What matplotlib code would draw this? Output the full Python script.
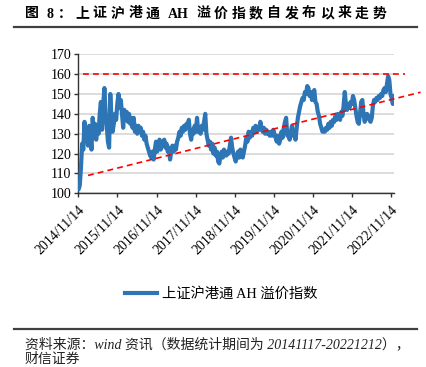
import matplotlib
matplotlib.use("Agg")
import matplotlib.pyplot as plt
from matplotlib.lines import Line2D
import pandas as pd
import re

# ---------------- data ----------------
start_date = "2014-11-17"
end_date = "2022-12-12"
ah_premium = [
    102, 104, 113, 125, 122, 136, 128, 132, 124, 134,
    128, 122, 138, 130, 135, 127, 134, 130, 140, 146,
    132, 145, 153, 140, 134, 126, 123, 150, 138, 131,
    135, 140, 137, 145, 150, 143, 147, 140, 133, 142,
    137, 141, 136, 140, 135, 138, 133, 138, 131, 134,
    130, 134, 131, 133, 129, 131, 127, 129, 125, 123,
    121, 119, 118, 121, 117, 122, 126, 121, 125, 127,
    122, 126, 124, 127, 123, 125, 121, 123, 117, 121,
    124, 121, 124, 122, 126, 128, 131, 129, 133, 131,
    134, 132, 135, 133, 137, 130, 127, 132, 130, 134,
    131, 138, 131, 133, 130, 134, 132, 136, 140, 130,
    127, 124, 126, 122, 125, 120, 123, 119, 121, 116,
    115, 119, 121, 118, 122, 120, 119, 121, 120, 124,
    128, 123, 120, 118, 116, 119, 121, 118, 122, 120,
    118, 121, 124, 128, 126, 131, 128, 131, 129, 133,
    131, 134, 131, 133, 132, 136, 133, 131, 133, 130,
    132, 130, 131, 129, 131, 129, 132, 130, 128, 126,
    129, 125, 127, 131, 128, 133, 136, 138, 129, 130,
    127, 131, 134, 129, 131, 127, 133, 138, 141, 144,
    146, 148, 147, 151, 150, 154, 153, 149, 151, 147,
    150, 152, 146, 145, 141, 139, 135, 133, 131, 132,
    131, 133, 132, 135, 133, 136, 134, 137, 136, 139,
    137, 140, 138, 137, 141, 139, 144, 151, 145, 142,
    145, 143, 146, 145, 149, 147, 143, 139, 136, 135,
    140, 146, 147, 140, 136, 138, 140, 139, 137, 136,
    138, 144, 147, 146, 148, 147, 149, 148, 150, 149,
    152, 153, 151, 155, 159, 157, 150, 148, 145, 149,
]
series_name = "上证沪港通 AH 溢价指数"
tick_dates = ["2014-11-14", "2015-11-14", "2016-11-14", "2017-11-14", "2018-11-14",
              "2019-11-14", "2020-11-14", "2021-11-14", "2022-11-14"]
tick_labels = ["2014/11/14", "2015/11/14", "2016/11/14", "2017/11/14", "2018/11/14",
               "2019/11/14", "2020/11/14", "2021/11/14", "2022/11/14"]
y_ticks = [100, 110, 120, 130, 140, 150, 160, 170]
upper_line_dates = ["2014-12-28", "2023-03-23"]
upper_line_values = [160, 160]
trend_dates = ["2015-02-13", "2023-08-17"]
trend_values = [109, 150.9]

title = "图 8：上证沪港通 AH 溢价指数自发布以来走势"
source_line1 = "资料来源：wind 资讯（数据统计期间为 20141117-20221212），"
source_line2 = "财信证券"

# ---------------- figure ----------------
W, H = 427, 367
fig = plt.figure(figsize=(W / 100, H / 100), dpi=100)
fig.patch.set_facecolor("white")

serif_cjk = ["Liberation Serif", "Noto Sans CJK SC"]

ax = fig.add_axes([78.3 / W, 1 - 193.3 / H, (394 - 78.3) / W, (193.3 - 54.3) / H])

dates = pd.date_range(start_date, end_date, periods=len(ah_premium))
ax.plot(dates, ah_premium, color="#2E75B6", lw=3.0, solid_joinstyle="round",
        solid_capstyle="round", label=series_name, zorder=3)

ax.plot(pd.to_datetime(upper_line_dates), upper_line_values, color="#FF0000",
        lw=1.2, dashes=(3.5, 2.5), clip_on=False, zorder=4)
ax.plot(pd.to_datetime(trend_dates), trend_values, color="#FF0000",
        lw=1.2, dashes=(3.5, 2.5), clip_on=False, zorder=4)

ax.set_xlim(pd.Timestamp("2014-11-14"), pd.Timestamp(end_date))
ax.set_ylim(100, 170)
ax.set_yticks(y_ticks)
ax.set_xticks(pd.to_datetime(tick_dates))
ax.set_xticklabels(tick_labels, rotation=45, ha="right", rotation_mode="anchor")

ax.yaxis.grid(True, color="#D9D9D9", lw=1.3)
ax.set_axisbelow(True)
for s in ["top", "right"]:
    ax.spines[s].set_visible(False)
for s in ["left", "bottom"]:
    ax.spines[s].set_color("#333333")
    ax.spines[s].set_linewidth(1.0)
ax.tick_params(axis="both", direction="out", length=3, width=1.0, color="#333333",
               labelcolor="#000000")
ax.tick_params(axis="y", pad=2)
ax.tick_params(axis="x", pad=4)
for lab in ax.get_xticklabels() + ax.get_yticklabels():
    lab.set_fontfamily("Liberation Serif")
    lab.set_fontsize(10)

# legend
leg = fig.legend(handles=[Line2D([], [], color="#2E75B6", lw=3.0)], labels=[series_name],
                 loc="center", bbox_to_anchor=(221.5 / W, 1 - 294 / H), frameon=False,
                 handlelength=2.2, handletextpad=0.4,
                 prop={"family": serif_cjk, "size": 10.3})

# title with letter spacing
fig.canvas.draw()
renderer = fig.canvas.get_renderer()


def tracked_text(x_px, y_px, s, track_px, **kw):
    x = x_px
    for tok in re.findall(r"[A-Za-z0-9]+| |.", s):
        if tok == " ":
            x += 4
            continue
        t = fig.text(x / W, 1 - y_px / H, tok, ha="left", va="center", **kw)
        bb = t.get_window_extent(renderer)
        x += bb.width + track_px


tracked_text(25, 14, title, 3.8, fontsize=10, fontweight="bold", family=serif_cjk, color="#000000")

# rules
fig.add_artist(Line2D([14 / W, 417 / W], [1 - 27 / H, 1 - 27 / H], color="#404040", lw=1.6))
fig.add_artist(Line2D([14 / W, 417 / W], [1 - 329 / H, 1 - 329 / H], color="#404040", lw=1.6))

# source
fig.text(25 / W, 1 - 344 / H, source_line1, ha="left", va="center", fontsize=10,
         family=serif_cjk, style="italic", color="#222222")
fig.text(25 / W, 1 - 359 / H, source_line2, ha="left", va="center", fontsize=10,
         family=serif_cjk, style="italic", color="#222222")

fig.savefig("out.png", dpi=100)
